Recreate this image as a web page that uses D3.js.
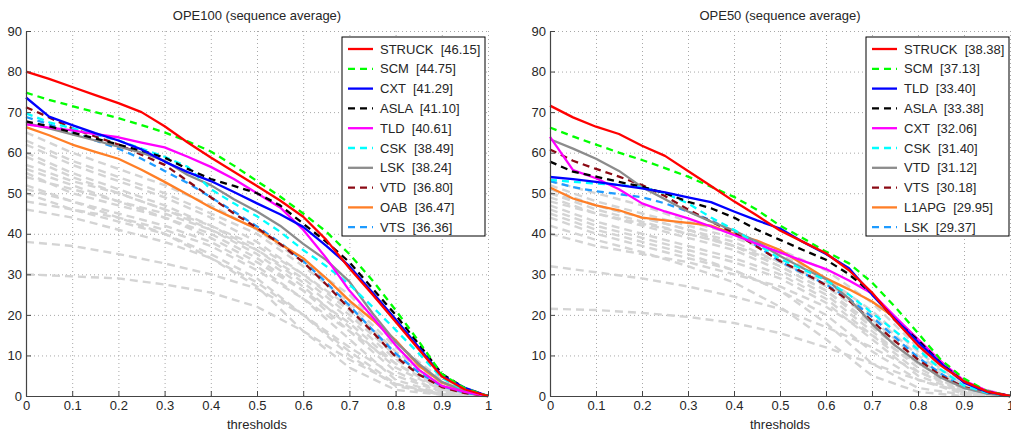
<!DOCTYPE html>
<html>
<head>
<meta charset="utf-8">
<script src="https://cdn.jsdelivr.net/npm/d3@7"></script>
<style>
body { margin: 0; background: #fff; }
text { font-family: "Liberation Sans", Arial, sans-serif; fill: #262626; }
</style>
</head>
<body>
<div id="chart"></div>
<script>
// thresholds used by the ranked trackers and by the background trackers
const thresholds = d3.range(0, 21).map(i => i / 20);
const grayThresholds = d3.range(0, 11).map(i => i / 10);
const xTicks = [0, 0.1, 0.2, 0.3, 0.4, 0.5, 0.6, 0.7, 0.8, 0.9, 1];
const yTicks = [0, 10, 20, 30, 40, 50, 60, 70, 80, 90];

// OPE100
const ope100Names = ["STRUCK", "SCM", "CXT", "ASLA", "TLD", "CSK", "LSK", "VTD", "OAB", "VTS"];
const ope100Scores = ["46.15", "44.75", "41.29", "41.10", "40.61", "38.49", "38.24", "36.80", "36.47", "36.36"];
const ope100Values = [
  [80, 78.2, 76.2, 74.2, 72.2, 70.0, 66.5, 62.5, 58.8, 55.3, 51.8, 48.2, 44.2, 38.5, 31.5, 25.0, 18.3, 11.5, 4.8, 1.6, 0],
  [74.8, 73, 71.5, 70, 68.5, 66.8, 65, 62.8, 60.3, 56.8, 53, 49.2, 45.0, 40.5, 35.0, 28.5, 21.2, 13.5, 5.4, 1.9, 0],
  [73.6, 68.9, 66.8, 64.8, 63.0, 60.8, 57.8, 55.2, 53, 50.3, 47.5, 44.8, 41.7, 37.0, 32.0, 25.5, 18.9, 12.0, 5.0, 2.0, 0],
  [67.7, 66.5, 65, 63.5, 62, 60.5, 58.8, 56, 53.5, 51.8, 50.0, 47.0, 42.5, 38.0, 33.0, 26.5, 20.0, 12.8, 5.5, 1.9, 0],
  [67.0, 66.2, 65.5, 64.6, 63.8, 62.5, 61.3, 59, 56.5, 53.5, 50.0, 46.5, 41.0, 34.0, 26.0, 19.5, 12.5, 6.5, 2.5, 1.0, 0],
  [69.7, 67.5, 66, 64.5, 63, 61, 59, 56.5, 51, 47.5, 44.3, 40.5, 36, 32.0, 27.5, 22.0, 16.3, 10.5, 4.5, 1.3, 0],
  [67.3, 66, 64.5, 63, 61.5, 60, 58, 54.5, 52, 48.5, 45.5, 42, 37.5, 33.5, 28.2, 20.4, 13.4, 8.0, 3.5, 1.1, 0],
  [71.2, 68.7, 66, 64, 62, 59.5, 57, 53, 49, 45, 41.5, 37.5, 33, 27.5, 21.5, 15.8, 9.7, 5.3, 2.2, 0.7, 0],
  [66.3, 64.3, 62, 60.2, 58.5, 55.8, 52.8, 49.7, 46.5, 43.8, 41.2, 37.5, 34, 29.0, 23.5, 18.8, 13.8, 7.5, 3.3, 1.4, 0],
  [68.8, 67, 65, 63, 61, 58.5, 55.5, 52.5, 49, 45.5, 41.8, 37.8, 33.3, 28, 22.3, 16.3, 10.5, 5.8, 2.4, 0.8, 0]
];
const ope100Others = [
  [65, 60, 56, 52, 47, 41, 33, 25, 13, 4, 0],
  [63, 58, 54, 50, 45, 40, 32, 23, 12, 3, 0],
  [62, 57, 53, 49, 44, 38, 30, 21, 10, 2.5, 0],
  [60, 55, 51, 47, 42, 36, 28, 19, 9, 2, 0],
  [59, 54, 50, 46, 41, 35, 27, 17, 7, 1.5, 0],
  [57, 53, 50, 46, 42, 37, 30, 22, 11, 3, 0],
  [55, 50, 47, 44, 40, 34, 26, 16, 6, 1, 0],
  [54, 51, 48, 45, 41, 36, 29, 20, 10, 2.5, 0],
  [52, 48, 44, 40, 34, 27, 16, 7, 1.5, 0.3, 0],
  [51, 48, 45, 42, 38, 32, 24, 14, 4, 0.5, 0],
  [50, 46, 43, 40, 35, 29, 20, 10, 2.5, 0.3, 0],
  [48, 46, 44, 41, 37, 31, 24, 16, 8, 2, 0],
  [38, 37, 35, 32.7, 30, 26.5, 20, 12, 5, 1, 0],
  [30, 29.5, 29, 27.5, 25.5, 22, 16, 9, 3, 0.5, 0],
  [46, 44, 41, 38, 34, 28, 20, 11, 3, 0.3, 0],
  [56, 52, 48, 44, 39, 33, 26, 18, 8, 1.5, 0]
];

// OPE50
const ope50Names = ["STRUCK", "SCM", "TLD", "ASLA", "CXT", "CSK", "VTD", "VTS", "L1APG", "LSK"];
const ope50Scores = ["38.38", "37.13", "33.40", "33.38", "32.06", "31.40", "31.12", "30.18", "29.95", "29.37"];
const ope50Values = [
  [71.6, 68.7, 66.4, 64.6, 61.7, 59.2, 55.5, 51.8, 48.0, 44.5, 40.8, 38.0, 35.2, 31.0, 25.5, 18.7, 12.5, 7.5, 3.6, 1.1, 0],
  [66.2, 64, 62, 60, 58.2, 56.2, 54.1, 51.6, 49.1, 45.9, 42.0, 38.9, 35.6, 32.7, 28.0, 22.0, 15.5, 8.9, 4.3, 1.2, 0],
  [54, 53.5, 52.8, 52, 51.2, 50.2, 49, 47.8, 45.5, 43.3, 41.3, 38, 35, 31.5, 25, 19, 13.3, 8, 3.3, 1, 0],
  [57.8, 55.3, 54.1, 52.8, 51.6, 50.0, 47.9, 46.3, 44.0, 41.0, 38.5, 36.0, 33.6, 30.0, 25.3, 18.7, 13.8, 8.0, 3.5, 1.0, 0],
  [63.9, 55.7, 53.7, 51, 47.5, 45.5, 43.8, 41.8, 39.7, 37.5, 35.4, 33.3, 31.3, 28.5, 25.3, 19.6, 14.0, 8.5, 3.8, 1.3, 0],
  [53.3, 52.8, 52.4, 52, 51.5, 50, 47.5, 44, 41, 37.5, 33.8, 31.2, 28.5, 25, 20.5, 16, 11.5, 6.5, 2.5, 0.8, 0],
  [63.3, 61, 58.5, 55.5, 51.5, 48.5, 45.5, 43, 40.8, 38.0, 34.5, 31.5, 28.8, 24.0, 17.8, 12.5, 8.3, 4.5, 2.0, 0.6, 0],
  [60.8, 58, 56, 54.1, 52, 49.3, 46, 43, 40.3, 36.8, 33.3, 30.5, 27.3, 23.5, 18.5, 13.5, 9.0, 5.0, 2.2, 0.7, 0],
  [51.4, 48.7, 47, 45.8, 44, 43.3, 42.7, 42, 40, 38.3, 36, 32.5, 29.0, 26.3, 23.3, 19.3, 14.0, 8.5, 3.5, 1.0, 0],
  [53, 51.5, 50.5, 49.8, 49, 47.5, 45.5, 43.3, 40.5, 37, 33.2, 30.3, 27.5, 24, 19.5, 14.5, 9.5, 5.5, 2.0, 0.7, 0]
];
const ope50Others = [
  [53, 50, 47, 43, 40, 36, 31, 23, 12, 3, 0],
  [52, 48, 45, 42, 39, 35, 29, 21, 11, 2.5, 0],
  [51, 47, 44, 41, 38, 33, 27, 19, 9, 2, 0],
  [50, 46, 43, 40, 37, 32, 26, 17, 8, 1.5, 0],
  [49, 45, 42, 39, 36, 31, 25, 16, 7, 1, 0],
  [48, 45, 42.5, 40, 37, 33, 28, 20, 10, 2.5, 0],
  [47, 43, 40, 37, 34, 30, 24, 15, 6, 1, 0],
  [46, 42, 39, 36, 33, 29, 23, 14, 5, 0.8, 0],
  [45, 41, 38, 35, 31, 26, 18, 8, 2, 0.3, 0],
  [44, 40, 37, 34, 31, 26, 20, 11, 4, 0.5, 0],
  [50, 47, 44, 41, 37, 32, 26, 18, 9, 2, 0],
  [42, 38.5, 35.5, 32, 28, 22, 14, 5, 1, 0, 0],
  [40, 37, 35, 33, 30, 27, 22, 15, 8, 2, 0],
  [32, 30.5, 29, 27, 24.5, 21.5, 17, 12, 6, 1.5, 0],
  [21.5, 21.2, 20.5, 19.5, 18, 15.5, 12, 8, 4, 1, 0]
];

// line style per rank
const rankColors = ["#ff0000", "#00ff00", "#0000ff", "#000000", "#ff00ff", "#00ffff", "#8c8c8c", "#8b0a14", "#ff7f27", "#1e9bff"];
const rankDashed = [false, true, false, true, false, true, false, true, false, true];
const grayColor = "#d4d4d4";

const W = 1011, H = 436;
const svg = d3.select("#chart").append("svg")
  .attr("width", W).attr("height", H);

const panels = [
  { title: "OPE100 (sequence average)", x0: 26, x1: 488, names: ope100Names, scores: ope100Scores, values: ope100Values, others: ope100Others, legendX: 342 },
  { title: "OPE50 (sequence average)", x0: 550, x1: 1010, names: ope50Names, scores: ope50Scores, values: ope50Values, others: ope50Others, legendX: 866 }
];

const yScale = d3.scaleLinear().domain([0, 90]).range([396, 31]);

panels.forEach(p => {
  const xScale = d3.scaleLinear().domain([0, 1]).range([p.x0, p.x1]);
  const g = svg.append("g");

  // grid
  g.append("g")
    .attr("transform", "translate(0,396)")
    .call(d3.axisBottom(xScale).tickValues(xTicks).tickSize(-365).tickFormat(""))
    .call(a => a.select(".domain").remove())
    .selectAll("line").attr("stroke", "#a8a8a8").attr("stroke-dasharray", "1,3");
  g.append("g")
    .attr("transform", `translate(${p.x0},0)`)
    .call(d3.axisLeft(yScale).tickValues(yTicks).tickSize(-(p.x1 - p.x0)).tickFormat(""))
    .call(a => a.select(".domain").remove())
    .selectAll("line").attr("stroke", "#a8a8a8").attr("stroke-dasharray", "1,3");

  const line = d3.line()
    .x(d => xScale(d[0]))
    .y(d => yScale(d[1]));

  // background trackers
  p.others.forEach(vals => {
    g.append("path")
      .datum(vals.map((v, i) => [grayThresholds[i], v]))
      .attr("d", line)
      .attr("fill", "none")
      .attr("stroke", grayColor)
      .attr("stroke-width", 2.4)
      .attr("stroke-dasharray", "8,5");
  });

  // ranked trackers, best on top
  for (let r = p.values.length - 1; r >= 0; r--) {
    g.append("path")
      .datum(p.values[r].map((v, i) => [thresholds[i], v]))
      .attr("d", line)
      .attr("fill", "none")
      .attr("stroke", rankColors[r])
      .attr("stroke-width", 2.3)
      .attr("stroke-linejoin", "round")
      .attr("stroke-dasharray", rankDashed[r] ? "7,5" : null);
  }

  // axes
  const xAxis = g.append("g")
    .attr("transform", "translate(0,396)")
    .call(d3.axisBottom(xScale).tickValues(xTicks).tickSizeInner(-5).tickSizeOuter(0)
      .tickFormat(d => d3.format("~g")(d)));
  const yAxis = g.append("g")
    .attr("transform", `translate(${p.x0},0)`)
    .call(d3.axisLeft(yScale).tickValues(yTicks).tickSizeInner(-5).tickSizeOuter(0));
  [xAxis, yAxis].forEach(a => {
    a.select(".domain").attr("stroke", "#444").attr("stroke-width", 1.2);
    a.selectAll(".tick line").attr("stroke", "#444");
    a.selectAll(".tick text").style("font-size", "13px").attr("fill", "#262626");
  });
  xAxis.selectAll(".tick text").attr("y", 5);
  yAxis.selectAll(".tick text").attr("x", -4);

  // title and axis label
  g.append("text")
    .attr("x", (p.x0 + p.x1) / 2).attr("y", 20)
    .attr("text-anchor", "middle").style("font-size", "13px")
    .text(p.title);
  g.append("text")
    .attr("x", (p.x0 + p.x1) / 2).attr("y", 429)
    .attr("text-anchor", "middle").style("font-size", "13px")
    .text("thresholds");

  // legend
  const lg = g.append("g").attr("transform", `translate(${p.legendX},37)`);
  lg.append("rect")
    .attr("width", 143).attr("height", 199)
    .attr("fill", "#fff").attr("stroke", "#000").attr("stroke-width", 1);
  p.names.forEach((name, i) => {
    const y = 12 + i * 19.8;
    lg.append("line")
      .attr("x1", 6).attr("x2", 31).attr("y1", y).attr("y2", y)
      .attr("stroke", rankColors[i]).attr("stroke-width", 2.3)
      .attr("stroke-dasharray", rankDashed[i] ? "7,5" : null);
    lg.append("text")
      .attr("x", 38).attr("y", y + 4.5)
      .style("font-size", "13px").style("white-space", "pre")
      .text(`${name}  [${p.scores[i]}]`);
  });
});
</script>
</body>
</html>
